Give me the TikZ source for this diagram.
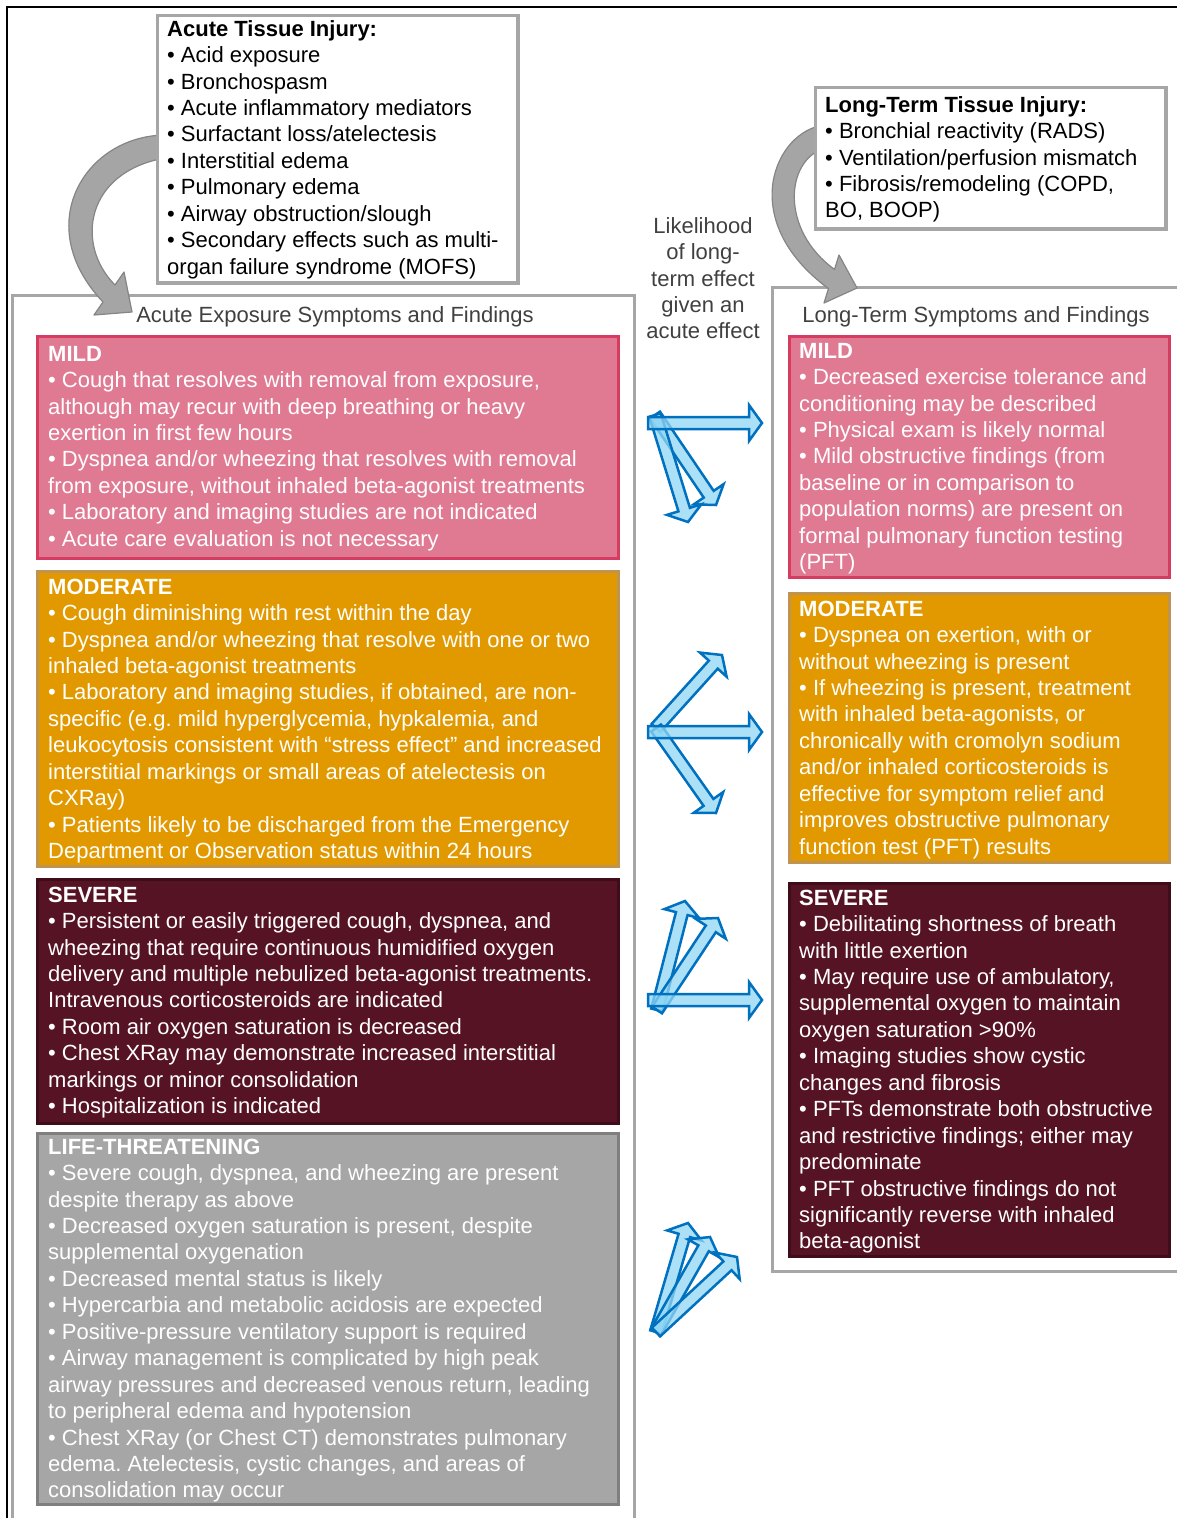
\documentclass[tikz,border=0pt]{standalone}
\usepackage{fontspec}
\setmainfont{Liberation Sans}
\usetikzlibrary{calc}
\frenchspacing

\definecolor{mildfill}{HTML}{E07A93}
\definecolor{mildedge}{HTML}{D63B62}
\definecolor{modfill}{HTML}{E29900}
\definecolor{modedge}{HTML}{BF9450}
\definecolor{sevfill}{HTML}{561324}
\definecolor{sevedge}{HTML}{3E0D19}
\definecolor{lifefill}{HTML}{A6A6A6}
\definecolor{lifeedge}{HTML}{7F7F7F}
\definecolor{panelgray}{HTML}{A6A6A6}
\definecolor{titlegray}{HTML}{404040}
\definecolor{arrowblue}{HTML}{0070C0}
\definecolor{arrowfill}{HTML}{8FD6F3}
\definecolor{bentgray}{HTML}{A5A5A5}
\definecolor{bentedge}{HTML}{858585}

\newcommand{\bodyfont}{\fontsize{22}{26.45}\selectfont}

% straight block arrow from #1 (tail centre) to #2 (tip)
\newcommand{\blockarrow}[2]{%
  \coordinate (bah) at ($(#2)!13pt!(#1)$);
  \draw[bluearrow] ($(#1)!6pt!90:(#2)$) -- ($(bah)!6pt!90:(#2)$)
    -- ($(bah)!18pt!90:(#2)$) -- (#2) -- ($(bah)!18pt!-90:(#2)$)
    -- ($(bah)!6pt!-90:(#2)$) -- ($(#1)!6pt!-90:(#2)$) -- cycle;
}

\begin{document}
\begin{tikzpicture}[x=1pt,y=-1pt,
  levelbox/.style={line width=3pt, inner sep=0pt, anchor=north west},
  mildbox/.style={levelbox, fill=mildfill, draw=mildedge},
  modbox/.style={levelbox, fill=modfill, draw=modedge},
  sevbox/.style={levelbox, fill=sevfill, draw=sevedge},
  lifebox/.style={levelbox, fill=lifefill, draw=lifeedge},
  injbox/.style={levelbox, fill=white, draw=panelgray, line width=3.5pt},
  boxtxt/.style={anchor=north west, inner sep=0pt, align=left, font=\bodyfont, text=white},
  injtxt/.style={anchor=north west, inner sep=0pt, align=left, font=\bodyfont, text=black},
  graytxt/.style={anchor=north, inner sep=0pt, align=center, font=\bodyfont, text=titlegray},
  panel/.style={draw=panelgray, line width=3pt},
  bentarrow/.style={fill=bentgray, draw=bentedge, line width=1.2pt, line join=round},
  bluearrow/.style={draw=arrowblue, line width=2.5pt, fill=arrowfill, fill opacity=0.75, line join=miter}
]
\useasboundingbox (0,0) rectangle (1177,1518);

% outer frame
\draw[line width=2pt] (7,1518) -- (7,7) -- (1177,7);

% panels
\draw[panel] (12,1518) -- (12,295) -- (634,295) -- (634,1518);
\draw[panel] (1177,287) -- (772,287) -- (772,1271) -- (1177,1271);

\node[graytxt] (acutetitle) at (335,303.4) {\strut Acute Exposure Symptoms and Findings};
\node[graytxt] (longtitle) at (976,303.4) {\strut Long-Term Symptoms and Findings};

\node[graytxt] (likelihood) at (703,214.4) {\strut Likelihood\\of long-\\term effect\\given an\\acute effect};

% bent arrows from the injury boxes into the panels
\draw[bentarrow] (165,135) .. controls (85,136) and (30,225) .. (103,302)
  -- (94,315) -- (132,312) -- (124,272) -- (115,285)
  .. controls (75,245) and (85,172) .. (165,158) -- cycle;
\draw[bentarrow] (825,125) .. controls (775,130) and (735,220) .. (828.5,288.6)
  -- (824,303) -- (857,288) -- (839,255) -- (834.5,269.4)
  .. controls (780,230) and (785,160) .. (825,148) -- cycle;

% injury boxes
\node[injbox, minimum width=360.5pt, minimum height=267.5pt] (acuteinj) at (155.75,13.75) {};
\node[injtxt] (acuteinjtxt) at (167,17.4) {\strut\textbf{Acute Tissue Injury:}\\
• Acid exposure\\
• Bronchospasm\\
• Acute inflammatory mediators\\
• Surfactant loss/atelectesis\\
• Interstitial edema\\
• Pulmonary edema\\
• Airway obstruction/slough\\
• Secondary effects such as multi-\\
organ failure syndrome (MOFS)};

\node[injbox, minimum width=350.5pt, minimum height=141.5pt] (longinj) at (813.75,85.75) {};
\node[injtxt] (longinjtxt) at (825,93.4) {\strut\textbf{Long-Term Tissue Injury:}\\
• Bronchial reactivity (RADS)\\
• Ventilation/perfusion mismatch\\
• Fibrosis/remodeling (COPD,\\
BO, BOOP)};

% acute severity boxes
\node[mildbox, minimum width=581pt, minimum height=222pt] (amild) at (35.5,334.5) {};
\node[boxtxt] (amildtxt) at (48,342.4) {\strut\textbf{MILD}\\
• Cough that resolves with removal from exposure,\\
although may recur with deep breathing or heavy\\
exertion in first few hours\\
• Dyspnea and/or wheezing that resolves with removal\\
from exposure, without inhaled beta-agonist treatments\\
• Laboratory and imaging studies are not indicated\\
• Acute care evaluation is not necessary};

\node[modbox, minimum width=581pt, minimum height=295pt] (amod) at (35.5,569.5) {};
\node[boxtxt] (amodtxt) at (48,575.4) {\strut\textbf{MODERATE}\\
• Cough diminishing with rest within the day\\
• Dyspnea and/or wheezing that resolve with one or two\\
inhaled beta-agonist treatments\\
• Laboratory and imaging studies, if obtained, are non-\\
specific (e.g. mild hyperglycemia, hypkalemia, and\\
leukocytosis consistent with “stress effect” and increased\\
interstitial markings or small areas of atelectesis on\\
CXRay)\\
• Patients likely to be discharged from the Emergency\\
Department or Observation status within 24 hours};

\node[sevbox, minimum width=581pt, minimum height=244pt] (asev) at (35.5,877.5) {};
\node[boxtxt] (asevtxt) at (48,883.4) {\strut\textbf{SEVERE}\\
• Persistent or easily triggered cough, dyspnea, and\\
wheezing that require continuous humidified oxygen\\
delivery and multiple nebulized beta-agonist treatments.\\
Intravenous corticosteroids are indicated\\
• Room air oxygen saturation is decreased\\
• Chest XRay may demonstrate increased interstitial\\
markings or minor consolidation\\
• Hospitalization is indicated};

\node[lifebox, minimum width=581pt, minimum height=371pt] (alife) at (35.5,1131.5) {};
\node[boxtxt] (alifetxt) at (48,1135.4) {\strut\textbf{LIFE-THREATENING}\\
• Severe cough, dyspnea, and wheezing are present\\
despite therapy as above\\
• Decreased oxygen saturation is present, despite\\
supplemental oxygenation\\
• Decreased mental status is likely\\
• Hypercarbia and metabolic acidosis are expected\\
• Positive-pressure ventilatory support is required\\
• Airway management is complicated by high peak\\
airway pressures and decreased venous return, leading\\
to peripheral edema and hypotension\\
• Chest XRay (or Chest CT) demonstrates pulmonary\\
edema. Atelectesis, cystic changes, and areas of\\
consolidation may occur};

% long-term severity boxes
\node[mildbox, minimum width=380pt, minimum height=241pt] (lmild) at (787.5,334.5) {};
\node[boxtxt] (lmildtxt) at (799,339.4) {\strut\textbf{MILD}\\
• Decreased exercise tolerance and\\
conditioning may be described\\
• Physical exam is likely normal\\
• Mild obstructive findings (from\\
baseline or in comparison to\\
population norms) are present on\\
formal pulmonary function testing\\
(PFT)};

\node[modbox, minimum width=380pt, minimum height=269pt] (lmod) at (787.5,591.5) {};
\node[boxtxt] (lmodtxt) at (799,597.4) {\strut\textbf{MODERATE}\\
• Dyspnea on exertion, with or\\
without wheezing is present\\
• If wheezing is present, treatment\\
with inhaled beta-agonists, or\\
chronically with cromolyn sodium\\
and/or inhaled corticosteroids is\\
effective for symptom relief and\\
improves obstructive pulmonary\\
function test (PFT) results};

\node[sevbox, minimum width=380pt, minimum height=373pt] (lsev) at (787.5,881.5) {};
\node[boxtxt] (lsevtxt) at (799,886.4) {\strut\textbf{SEVERE}\\
• Debilitating shortness of breath\\
with little exertion\\
• May require use of ambulatory,\\
supplemental oxygen to maintain\\
oxygen saturation >90\%\\
• Imaging studies show cystic\\
changes and fibrosis\\
• PFTs demonstrate both obstructive\\
and restrictive findings; either may\\
predominate\\
• PFT obstructive findings do not\\
significantly reverse with inhaled\\
beta-agonist};

% likelihood arrows between the columns
\coordinate (m0) at (648,423);
\coordinate (m1) at (762,423);
\coordinate (m2) at (655,415);
\coordinate (m3) at (716,505);
\coordinate (m4) at (688,522);
\blockarrow{m2}{m3}
\blockarrow{m2}{m4}
\blockarrow{m0}{m1}

\coordinate (d0) at (648,732);
\coordinate (d1) at (762,732);
\coordinate (d2) at (656,728);
\coordinate (d3) at (722,655);
\coordinate (d4) at (716,813);
\blockarrow{d2}{d3}
\blockarrow{d2}{d4}
\blockarrow{d0}{d1}

\coordinate (s0) at (648,1000);
\coordinate (s1) at (762,1000);
\coordinate (s2) at (657,1010);
\coordinate (s3) at (685,901);
\coordinate (s4) at (718,918);
\blockarrow{s2}{s3}
\blockarrow{s2}{s4}
\blockarrow{s0}{s1}

\coordinate (t0) at (656,1332);
\coordinate (t1) at (688,1223);
\coordinate (t2) at (710,1237);
\coordinate (t3) at (737,1257);
\blockarrow{t0}{t1}
\blockarrow{t0}{t2}
\blockarrow{t0}{t3}
\end{tikzpicture}
\end{document}
